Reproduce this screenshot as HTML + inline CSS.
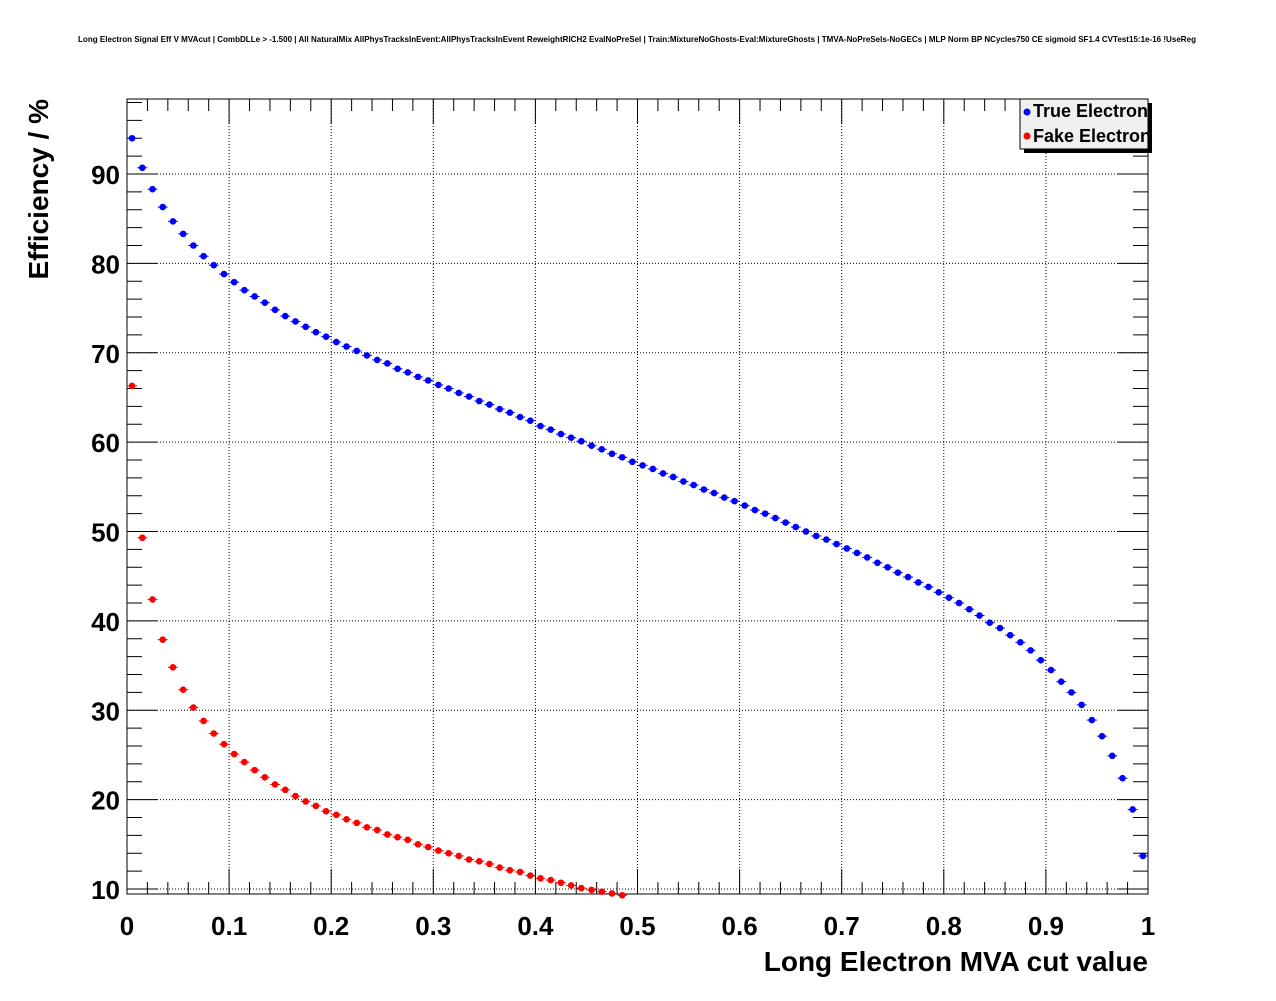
<!DOCTYPE html>
<html><head><meta charset="utf-8"><style>
body{margin:0;background:#fff;}
svg text{font-family:"Liberation Sans",sans-serif;}
</style></head><body>
<svg id="c" width="1276" height="996" xmlns="http://www.w3.org/2000/svg">
<rect width="1276" height="996" fill="#fff"/>
<text x="637" y="42" font-size="8.1" font-weight="bold" text-anchor="middle" textLength="1118" lengthAdjust="spacingAndGlyphs">Long Electron Signal Eff V MVAcut | CombDLLe &gt; -1.500 | All NaturalMix AllPhysTracksInEvent:AllPhysTracksInEvent ReweightRICH2 EvalNoPreSel | Train:MixtureNoGhosts-Eval:MixtureGhosts | TMVA-NoPreSels-NoGECs | MLP Norm BP NCycles750 CE sigmoid SF1.4 CVTest15:1e-16 !UseReg</text>
<g id="grid"></g>
<g id="ticks"></g>
<rect x="127" y="99" width="1021" height="795" fill="none" stroke="#000" stroke-width="1"/>
<g id="pts"></g>
<text x="1148" y="971" font-size="28" font-weight="bold" text-anchor="end">Long Electron MVA cut value</text>
<text transform="translate(48,99) rotate(-90)" font-size="28" font-weight="bold" text-anchor="end">Efficiency / %</text>
<g>
<rect x="1024" y="103" width="128" height="50" fill="#000"/>
<rect x="1020" y="99" width="128" height="50" fill="#f0f0f0" stroke="#000" stroke-width="1"/>
<circle cx="1027" cy="112" r="3.5" fill="#0000ff"/>
<text x="1033" y="117" font-size="18" font-weight="bold">True Electron</text>
<circle cx="1027" cy="136" r="3.5" fill="#ff0000"/>
<text x="1033" y="142" font-size="18" font-weight="bold">Fake Electron</text>
</g>
</svg>
<script>
const trueEff=[94.0,90.7,88.3,86.3,84.7,83.3,82.0,80.8,79.8,78.8,77.9,77.0,76.3,75.6,74.8,74.1,73.5,72.9,72.3,71.8,71.2,70.7,70.2,69.7,69.2,68.8,68.2,67.8,67.3,66.9,66.4,66.0,65.5,65.1,64.6,64.2,63.7,63.3,62.8,62.4,61.8,61.4,60.9,60.5,60.1,59.6,59.2,58.7,58.3,57.8,57.4,57.0,56.5,56.1,55.6,55.2,54.7,54.3,53.8,53.4,52.9,52.4,52.0,51.5,51.0,50.5,50.0,49.5,49.1,48.6,48.1,47.6,47.1,46.5,46.0,45.4,44.9,44.3,43.8,43.2,42.6,42.0,41.3,40.6,39.8,39.2,38.4,37.6,36.7,35.6,34.5,33.2,32.0,30.6,28.9,27.1,24.9,22.4,18.9,13.7];
const fakeEff=[66.3,49.3,42.4,37.9,34.8,32.3,30.3,28.8,27.4,26.2,25.1,24.2,23.3,22.5,21.7,21.1,20.4,19.8,19.3,18.7,18.3,17.8,17.4,16.9,16.6,16.1,15.8,15.5,15.0,14.7,14.3,14.0,13.7,13.3,13.1,12.8,12.4,12.1,11.9,11.5,11.2,11.0,10.7,10.4,10.1,9.9,9.7,9.5,9.3];
const xTicks=[0,0.1,0.2,0.3,0.4,0.5,0.6,0.7,0.8,0.9,1];
const xTickLabels=["0","0.1","0.2","0.3","0.4","0.5","0.6","0.7","0.8","0.9","1"];
const yTicks=[10,20,30,40,50,60,70,80,90];
const NS="http://www.w3.org/2000/svg";
const X0=127,X1=1148,YTOP=99,YBOT=894;
function sx(v){return X0+v*(X1-X0);}
function sy(v){return 889-(v-10)*(715/80);}
function mk(tag,attrs,parent){const e=document.createElementNS(NS,tag);for(const k in attrs)e.setAttribute(k,attrs[k]);parent.appendChild(e);return e;}
const grid=document.getElementById('grid'),ticks=document.getElementById('ticks'),pts=document.getElementById('pts'),svg=document.getElementById('c');
xTicks.forEach((t,i)=>{
  const x=sx(t);
  if(i>0&&i<xTicks.length-1){const g=mk('line',{x1:x,x2:x,y1:YTOP,y2:YBOT,stroke:'#000','stroke-dasharray':'1,2','stroke-width':1},grid);
  
  }
  mk('line',{x1:x,x2:x,y1:YBOT,y2:YBOT-25,stroke:'#000'},ticks);
  mk('line',{x1:x,x2:x,y1:YTOP,y2:YTOP+25,stroke:'#000'},ticks);
  const tx=mk('text',{x:x,y:935,'font-size':26,'font-weight':'bold','text-anchor':'middle'},svg);
  tx.textContent=xTickLabels[i];
  
  
});
for(let k=0;k<=50;k++){const v=k*0.02;if(k%5===0)continue;const x=sx(v);
  mk('line',{x1:x,x2:x,y1:YBOT,y2:YBOT-12,stroke:'#000'},ticks);
  mk('line',{x1:x,x2:x,y1:YTOP,y2:YTOP+12,stroke:'#000'},ticks);}
yTicks.forEach(t=>{
  const y=sy(t);
  const g=mk('line',{x1:X0,x2:X1,y1:y,y2:y,stroke:'#000','stroke-dasharray':'1,2','stroke-width':1},grid);
  
  
  mk('line',{x1:X0,x2:X0+30,y1:y,y2:y,stroke:'#000'},ticks);
  mk('line',{x1:X1,x2:X1-30,y1:y,y2:y,stroke:'#000'},ticks);
  const tx=mk('text',{x:120,y:y+10,'font-size':26,'font-weight':'bold','text-anchor':'end'},svg);
  tx.textContent=String(t);
  
  
});
for(let v=10;v<=98;v+=2){if(v%10===0)continue;const y=sy(v);
  mk('line',{x1:X0,x2:X0+15,y1:y,y2:y,stroke:'#000'},ticks);
  mk('line',{x1:X1,x2:X1-15,y1:y,y2:y,stroke:'#000'},ticks);}
function series(arr,col,name){
  arr.forEach((v,i)=>{const x=sx(0.005+0.01*i),y=sy(v);
    if(y>YBOT+2)return;
    mk('line',{x1:x-5,x2:x+5,y1:y,y2:y,stroke:col,'stroke-width':1},pts);
    const c=mk('circle',{cx:x,cy:y,r:3.3,fill:col},pts);
    
    });
}
series(trueEff,'#0000ff','true-electron-point');
series(fakeEff,'#ff0000','fake-electron-point');
</script>
</body></html>
